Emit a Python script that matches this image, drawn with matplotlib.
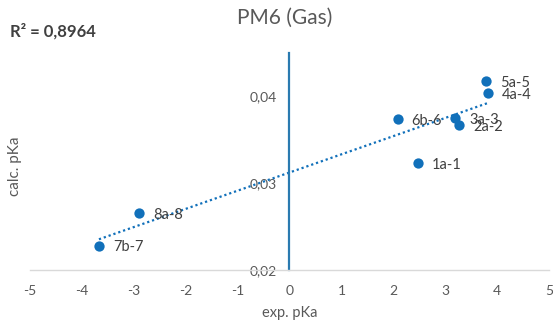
import numpy as np
import matplotlib
matplotlib.use("Agg")
import matplotlib.pyplot as plt

plt.rcParams["font.family"] = ["Lato", "DejaVu Sans"]
plt.rcParams["axes.unicode_minus"] = False

# experimental vs. calculated pKa (PM6, gas phase)
labels = ["1a-1", "2a-2", "3a-3", "4a-4", "5a-5", "6b-6", "7b-7", "8a-8"]
exp_pka = [2.48, 3.27, 3.19, 3.83, 3.79, 2.08, -3.67, -2.90]
calc_pka = [0.0323, 0.03667, 0.03747, 0.04034, 0.04172, 0.03736, 0.02276, 0.02655]
r2_text = "R² = 0,8964"

blue = "#1170BA"
grey_txt = "#595959"

fig = plt.figure(figsize=(5.53, 3.25), dpi=100)
ax = fig.add_axes([0.054, 0.169, 0.939, 0.668])

ax.scatter(exp_pka, calc_pka, s=55, color=blue, zorder=3, linewidths=0)

# linear trendline over the data range
k, b = np.polyfit(exp_pka, calc_pka, 1)
xs = np.array([min(exp_pka), max(exp_pka)])
ax.plot(xs, k * xs + b, color=blue, lw=1.6, linestyle=(0, (1, 1.3)), zorder=2)

for x, y, t in zip(exp_pka, calc_pka, labels):
    ax.annotate(t, (x, y), xytext=(10, -1), textcoords="offset points",
                va="center", ha="left", fontsize=10.5, color="#404040")

ax.set_xlim(-5, 5)
ax.set_ylim(0.02, 0.045)
ax.set_xticks(range(-5, 6))
ax.set_yticks([0.02, 0.03, 0.04])
ax.set_yticklabels(["0,02", "0,03", "0,04"])

# vertical axis crosses at x = 0
ax.spines["left"].set_position(("data", 0))
ax.spines["left"].set_color("#2A7AB0")
ax.spines["left"].set_linewidth(1.6)
ax.spines["bottom"].set_color("#D9D9D9")
ax.spines["bottom"].set_linewidth(1.0)
ax.spines["top"].set_visible(False)
ax.spines["right"].set_visible(False)
ax.tick_params(length=0, labelsize=10, colors=grey_txt)
ax.tick_params(axis="x", pad=11)
ax.tick_params(axis="y", pad=9)

fig.text(0.027, 0.49, "calc. pKa", rotation=90, ha="center", va="center",
         fontsize=11, color=grey_txt)
fig.text(0.524, 0.037, "exp. pKa", ha="center", va="center",
         fontsize=10.5, color=grey_txt)
fig.text(0.515, 0.945, "PM6 (Gas)", ha="center", va="center",
         fontsize=15, color=grey_txt)
fig.text(0.018, 0.905, r2_text, ha="left", va="center",
         fontsize=12, fontweight="bold", color="#404040")

fig.savefig("out.png", dpi=100)
